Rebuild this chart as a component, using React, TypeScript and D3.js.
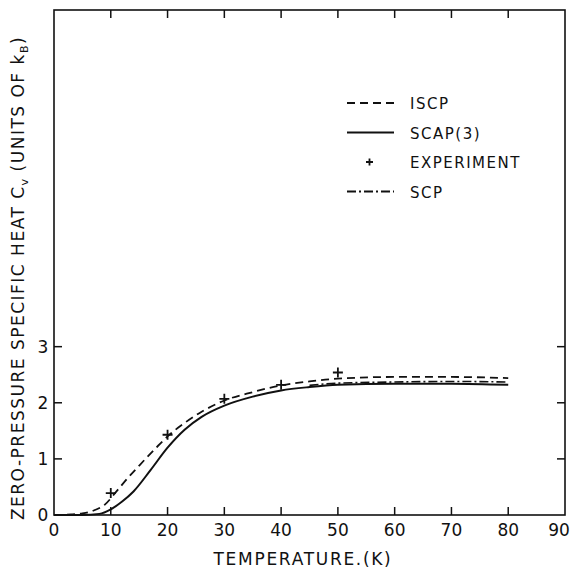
import * as d3 from 'd3';

const W = 575, H = 571;
const X0 = 54, X1 = 565, Y0 = 515, Y1 = 10;

// temperature (K) -> Cv (units of kB)
const iscpT = [0, 3, 5, 7, 9, 11, 13, 15, 18, 20, 23, 26, 30, 35, 40, 45, 50, 60, 70, 80];
const iscpCv = [0, 0.01, 0.03, 0.08, 0.19, 0.42, 0.66, 0.88, 1.2, 1.4, 1.64, 1.84, 2.04, 2.19, 2.31, 2.38, 2.43, 2.46, 2.46, 2.44];

const scapT = [0, 5, 8, 10, 12, 14, 17, 20, 23, 26, 30, 35, 40, 45, 50, 60, 70, 80];
const scapCv = [0, 0, 0.02, 0.1, 0.24, 0.42, 0.8, 1.2, 1.52, 1.75, 1.95, 2.11, 2.22, 2.28, 2.32, 2.34, 2.34, 2.32];

const scpT = [45, 50, 60, 70, 80];
const scpCv = [2.31, 2.35, 2.37, 2.38, 2.37];

const expT = [10, 20, 30, 40, 50];
const expCv = [0.39, 1.43, 2.07, 2.32, 2.54];

const xTicks = [0, 10, 20, 30, 40, 50, 60, 70, 80, 90];
const yTicks = [0, 1, 2, 3];

const legendItems = ['ISCP', 'SCAP(3)', 'EXPERIMENT', 'SCP'];

const FONT = '"DejaVu Sans", sans-serif';

export default function App() {
  const x = d3.scaleLinear().domain([0, 90]).range([X0, X1]);
  const y = d3.scaleLinear().domain([0, 9]).range([Y0, Y1]);

  const line = d3
    .line<[number, number]>()
    .x((d) => x(d[0]))
    .y((d) => y(d[1]))
    .curve(d3.curveMonotoneX);

  const iscp = line(iscpT.map((t, i) => [t, iscpCv[i]]));
  const scap = line(scapT.map((t, i) => [t, scapCv[i]]));
  const scp = line(scpT.map((t, i) => [t, scpCv[i]]));

  const dashes = ['8,5', null, 'plus', '9,3,2,3'];

  return (
    <svg
      width={W}
      height={H}
      style={{ position: 'absolute', left: 0, top: 0, background: '#fff' }}
      fontFamily={FONT}
    >
      {/* frame */}
      <rect x={X0} y={Y1} width={X1 - X0} height={Y0 - Y1} fill="none" stroke="#111" strokeWidth={1.6} />

      {/* x ticks, bottom and top */}
      {xTicks.slice(1, -1).map((t) => (
        <g key={t}>
          <line x1={x(t)} x2={x(t)} y1={Y0} y2={Y0 - 8} stroke="#111" strokeWidth={1.5} />
          <line x1={x(t)} x2={x(t)} y1={Y1} y2={Y1 + 8} stroke="#111" strokeWidth={1.5} />
        </g>
      ))}
      {xTicks.map((t, i) => (
        <text
          key={t}
          x={x(t) - (i === xTicks.length - 1 ? 6 : 0)}
          y={536}
          textAnchor="middle"
          fontSize={17}
          fill="#111"
        >
          {t}
        </text>
      ))}

      {/* y ticks, left and right */}
      {yTicks.slice(1).map((v) => (
        <g key={v}>
          <line x1={X0} x2={X0 + 8} y1={y(v)} y2={y(v)} stroke="#111" strokeWidth={1.5} />
          <line x1={X1} x2={X1 - 8} y1={y(v)} y2={y(v)} stroke="#111" strokeWidth={1.5} />
        </g>
      ))}
      {yTicks.map((v) => (
        <text key={v} x={43} y={y(v) + 6} textAnchor="middle" fontSize={17} fill="#111">
          {v}
        </text>
      ))}

      {/* curves */}
      <path d={iscp ?? ''} fill="none" stroke="#111" strokeWidth={1.8} strokeDasharray="8,5" />
      <path d={scap ?? ''} fill="none" stroke="#111" strokeWidth={2} />
      <path d={scp ?? ''} fill="none" stroke="#111" strokeWidth={1.6} strokeDasharray="9,3,2,3" />

      {expT.map((t, i) => (
        <path
          key={t}
          d={`M${x(t) - 5},${y(expCv[i])}h10M${x(t)},${y(expCv[i]) - 5}v10`}
          stroke="#111"
          strokeWidth={1.8}
        />
      ))}

      {/* legend */}
      {legendItems.map((name, i) => {
        const ly = 103 + i * 29.5;
        const dash = dashes[i];
        return (
          <g key={name}>
            {dash === 'plus' ? (
              <path d={`M${366},${ly}h7M${369.5},${ly - 3.5}v7`} stroke="#111" strokeWidth={1.8} />
            ) : (
              <line
                x1={347}
                x2={394}
                y1={ly}
                y2={ly}
                stroke="#111"
                strokeWidth={1.8}
                strokeDasharray={dash ?? undefined}
              />
            )}
            <text x={410} y={ly + 6} fontSize={15} letterSpacing={1.5} fill="#111">
              {name}
            </text>
          </g>
        );
      })}

      {/* axis titles */}
      <text x={303} y={565} textAnchor="middle" fontSize={17} letterSpacing={1.7} fill="#111">
        TEMPERATURE.(K)
      </text>
      <text
        transform="translate(24,278) rotate(-90)"
        textAnchor="middle"
        fontSize={17}
        letterSpacing={1.5}
        fill="#111"
      >
        ZERO-PRESSURE SPECIFIC HEAT C
        <tspan fontSize={11} dy={4}>v</tspan>
        <tspan dy={-4} dx={6}>(UNITS OF k</tspan>
        <tspan fontSize={11} dy={4}>B</tspan>
        <tspan dy={-4}>)</tspan>
      </text>
    </svg>
  );
}
